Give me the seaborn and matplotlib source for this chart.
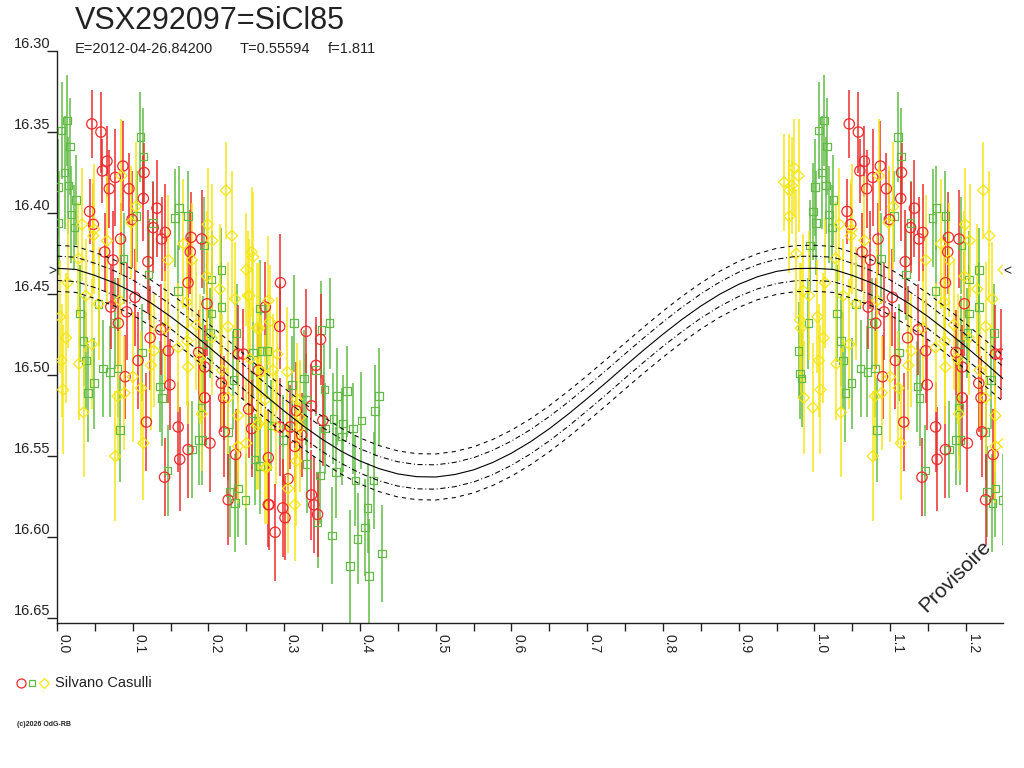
import matplotlib
matplotlib.use('Agg')
import numpy as np
import pandas as pd
from matplotlib import pyplot as plt
from matplotlib.lines import Line2D
import seaborn as sns

title = 'VSX292097=SiCl85'
epoch_text = 'E=2012-04-26.84200'
period_text = 'T=0.55594'
f_text = 'f=1.811'
observer = 'Silvano Casulli'
credit = '(c)2026 OdG-RB'
stamp = 'Provisoire'

# red circles
red_phase = [0.046, 0.058, 0.066, 0.060, 0.077, 0.087, 0.115, 0.069, 0.095, 0.114,
             0.132, 0.043, 0.048, 0.099, 0.127, 0.143, 0.138, 0.084, 0.063, 0.074,
             0.177, 0.176, 0.191, 0.120, 0.071, 0.092, 0.081, 0.123, 0.107, 0.090,
             0.147, 0.149, 0.118, 0.160, 0.173, 0.162, 0.142, 0.202, 0.221, 0.195,
             0.195, 0.226, 0.253, 0.279, 0.257, 0.275, 0.239, 0.187, 0.295, 0.329,
             0.348, 0.342, 0.336, 0.351, 0.316, 0.323, 0.314, 0.294, 0.308, 0.336,
             0.339, 0.344, 0.305, 0.298, 0.301, 0.280, 0.288, 0.236, 0.279, 0.294,
             0.266, 0.246, 0.220, 0.103, 0.137, 0.198, 0.217, 0.173]
red_mag = [16.345, 16.350, 16.368, 16.374, 16.378, 16.371, 16.375, 16.385, 16.385, 16.391,
           16.397, 16.399, 16.407, 16.404, 16.409, 16.412, 16.416, 16.416, 16.424, 16.429,
           16.415, 16.424, 16.416, 16.430, 16.458, 16.461, 16.468, 16.477, 16.491, 16.501,
           16.485, 16.506, 16.529, 16.532, 16.546, 16.552, 16.563, 16.542, 16.535, 16.514,
           16.495, 16.577, 16.521, 16.580, 16.533, 16.458, 16.487, 16.486, 16.443, 16.473,
           16.478, 16.494, 16.519, 16.528, 16.522, 16.537, 16.544, 16.532, 16.532, 16.574,
           16.580, 16.586, 16.564, 16.582, 16.588, 16.580, 16.597, 16.549, 16.551, 16.470,
           16.497, 16.487, 16.514, 16.452, 16.472, 16.456, 16.505, 16.443]
red_err = [0.021, 0.025, 0.022, 0.020, 0.030, 0.028, 0.018, 0.024, 0.022, 0.026,
           0.030, 0.020, 0.025, 0.030, 0.028, 0.030, 0.026, 0.022, 0.024, 0.030,
           0.028, 0.026, 0.030, 0.032, 0.026, 0.030, 0.028, 0.032, 0.030, 0.026,
           0.032, 0.028, 0.030, 0.028, 0.030, 0.032, 0.024, 0.030, 0.028, 0.030,
           0.026, 0.028, 0.030, 0.026, 0.030, 0.028, 0.030, 0.026, 0.030, 0.026,
           0.028, 0.030, 0.026, 0.028, 0.030, 0.026, 0.028, 0.030, 0.026, 0.028,
           0.030, 0.026, 0.028, 0.030, 0.026, 0.028, 0.030, 0.028, 0.030, 0.026,
           0.030, 0.028, 0.026, 0.030, 0.028, 0.032, 0.030, 0.028]

# green squares
green_phase = [0.006, 0.013, 0.017, 0.001, 0.010, 0.015, 0.025, 0.019, 0.002, 0.023,
               0.110, 0.114, 0.161, 0.173, 0.156, 0.105, 0.127, 0.194, 0.088, 0.217,
               0.030, 0.035, 0.038, 0.049, 0.041, 0.055, 0.061, 0.070, 0.080, 0.083,
               0.076, 0.112, 0.136, 0.139, 0.146, 0.178, 0.187, 0.191, 0.202, 0.226,
               0.228, 0.235, 0.249, 0.239, 0.261, 0.268, 0.283, 0.233, 0.217, 0.204,
               0.121, 0.277, 0.313, 0.360, 0.349, 0.342, 0.326, 0.353, 0.370, 0.383,
               0.425, 0.420, 0.402, 0.391, 0.378, 0.365, 0.376, 0.354, 0.330, 0.368,
               0.347, 0.394, 0.418, 0.410, 0.407, 0.397, 0.363, 0.344, 0.429, 0.387,
               0.412, 0.298, 0.268, 0.259, 0.310, 0.329, 0.258, 0.192, 0.998, 0.994,
               0.979, 0.981, 0.983, 0.992, 0.204, 0.270, 0.193, 0.160, 0.237]
green_mag = [16.349, 16.343, 16.359, 16.384, 16.375, 16.383, 16.392, 16.401, 16.406, 16.409,
             16.353, 16.365, 16.397, 16.402, 16.403, 16.402, 16.406, 16.420, 16.428, 16.435,
             16.462, 16.479, 16.491, 16.505, 16.511, 16.456, 16.496, 16.498, 16.496, 16.534,
             16.468, 16.486, 16.507, 16.514, 16.559, 16.546, 16.540, 16.520, 16.474, 16.535,
             16.572, 16.579, 16.577, 16.570, 16.552, 16.556, 16.531, 16.503, 16.458, 16.441,
             16.438, 16.485, 16.468, 16.468, 16.472, 16.497, 16.502, 16.509, 16.513, 16.510,
             16.513, 16.522, 16.528, 16.533, 16.530, 16.527, 16.538, 16.533, 16.555, 16.560,
             16.562, 16.565, 16.565, 16.582, 16.594, 16.601, 16.599, 16.591, 16.610, 16.618,
             16.624, 16.540, 16.459, 16.486, 16.506, 16.515, 16.528, 16.540, 16.399, 16.420,
             16.485, 16.499, 16.502, 16.468, 16.462, 16.485, 16.481, 16.448, 16.474]
green_err = [0.030, 0.028, 0.030, 0.030, 0.035, 0.030, 0.028, 0.030, 0.032, 0.026,
             0.028, 0.030, 0.026, 0.028, 0.030, 0.028, 0.026, 0.030, 0.028, 0.026,
             0.030, 0.028, 0.030, 0.028, 0.030, 0.026, 0.030, 0.028, 0.030, 0.032,
             0.028, 0.030, 0.028, 0.030, 0.028, 0.030, 0.028, 0.030, 0.028, 0.030,
             0.028, 0.030, 0.028, 0.030, 0.028, 0.030, 0.028, 0.030, 0.028, 0.030,
             0.028, 0.030, 0.030, 0.028, 0.030, 0.028, 0.030, 0.028, 0.030, 0.028,
             0.030, 0.028, 0.030, 0.028, 0.030, 0.028, 0.030, 0.028, 0.030, 0.028,
             0.030, 0.028, 0.030, 0.028, 0.030, 0.028, 0.030, 0.028, 0.030, 0.035,
             0.035, 0.028, 0.030, 0.028, 0.030, 0.028, 0.030, 0.028, 0.030, 0.028,
             0.030, 0.028, 0.030, 0.028, 0.030, 0.028, 0.030, 0.028, 0.030]

# yellow diamonds
yellow_phase = [0.085, 0.104, 0.033, 0.049, 0.048, 0.066, 0.098, 0.223, 0.199, 0.231,
                0.205, 0.167, 0.028, 0.147, 0.178, 0.257, 0.250, 0.014, 0.004, 0.012,
                0.006, 0.008, 0.029, 0.035, 0.038, 0.046, 0.055, 0.080, 0.089, 0.077,
                0.114, 0.100, 0.111, 0.124, 0.128, 0.160, 0.173, 0.189, 0.191, 0.172,
                0.171, 0.083, 0.235, 0.252, 0.239, 0.250, 0.239, 0.264, 0.226, 0.266,
                0.218, 0.184, 0.277, 0.259, 0.254, 0.279, 0.281, 0.267, 0.291, 0.304,
                0.285, 0.275, 0.317, 0.321, 0.289, 0.264, 0.275, 0.305, 0.314, 0.316,
                0.321, 0.215, 0.255, 0.973, 0.979, 0.960, 0.967, 0.970, 0.967, 0.976,
                0.985, 0.993, 0.981, 0.982, 0.986, 0.998, 0.204, 0.226, 0.143, 0.198,
                0.270]
yellow_mag = [16.377, 16.396, 16.407, 16.410, 16.414, 16.417, 16.406, 16.386, 16.407, 16.414,
              16.417, 16.419, 16.428, 16.429, 16.429, 16.424, 16.435, 16.443, 16.464, 16.477,
              16.491, 16.509, 16.493, 16.523, 16.451, 16.481, 16.456, 16.513, 16.511, 16.550,
              16.542, 16.501, 16.508, 16.494, 16.485, 16.483, 16.495, 16.490, 16.524, 16.479,
              16.455, 16.454, 16.453, 16.451, 16.525, 16.542, 16.544, 16.471, 16.514, 16.530,
              16.497, 16.469, 16.557, 16.427, 16.451, 16.454, 16.467, 16.471, 16.487, 16.498,
              16.497, 16.515, 16.515, 16.532, 16.532, 16.531, 16.557, 16.570, 16.580, 16.553,
              16.526, 16.447, 16.490, 16.372, 16.377, 16.381, 16.386, 16.383, 16.402, 16.425,
              16.448, 16.451, 16.466, 16.471, 16.514, 16.520, 16.477, 16.470, 16.471, 16.439,
              16.498]
yellow_err = [0.035, 0.040, 0.035, 0.040, 0.035, 0.040, 0.035, 0.030, 0.035, 0.040,
              0.035, 0.040, 0.035, 0.040, 0.035, 0.040, 0.035, 0.040, 0.035, 0.040,
              0.035, 0.040, 0.035, 0.040, 0.035, 0.040, 0.035, 0.040, 0.035, 0.040,
              0.035, 0.040, 0.035, 0.040, 0.035, 0.040, 0.035, 0.040, 0.035, 0.040,
              0.035, 0.040, 0.035, 0.040, 0.035, 0.040, 0.035, 0.040, 0.035, 0.040,
              0.035, 0.040, 0.035, 0.040, 0.035, 0.040, 0.035, 0.040, 0.035, 0.040,
              0.035, 0.040, 0.035, 0.040, 0.035, 0.040, 0.035, 0.040, 0.035, 0.040,
              0.035, 0.040, 0.035, 0.030, 0.035, 0.030, 0.035, 0.030, 0.035, 0.040,
              0.035, 0.040, 0.035, 0.040, 0.035, 0.040, 0.035, 0.040, 0.035, 0.040,
              0.035]

# fitted light curve, read every 0.025 in phase
curve_phase = [0.000, 0.025, 0.050, 0.075, 0.100, 0.125, 0.150, 0.175, 0.200, 0.225,
               0.250, 0.275, 0.300, 0.325, 0.350, 0.375, 0.400, 0.425, 0.450, 0.475,
               0.500, 0.525, 0.550, 0.575, 0.600, 0.625, 0.650, 0.675, 0.700, 0.725,
               0.750, 0.775, 0.800, 0.825, 0.850, 0.875, 0.900, 0.925, 0.950, 0.975,
               1.000, 1.025, 1.050, 1.075, 1.100, 1.125, 1.150, 1.175, 1.200, 1.225,
               1.250]
curve_mag = [16.4341, 16.4348, 16.4385, 16.4430, 16.4488, 16.4558, 16.4639, 16.4729, 16.4825, 16.4924,
             16.5026, 16.5126, 16.5222, 16.5313, 16.5396, 16.5469, 16.5530, 16.5577, 16.5610, 16.5627,
             16.5629, 16.5614, 16.5585, 16.5540, 16.5482, 16.5412, 16.5331, 16.5241, 16.5145, 16.5046,
             16.4944, 16.4844, 16.4748, 16.4657, 16.4574, 16.4501, 16.4440, 16.4393, 16.4360, 16.4343,
             16.4341, 16.4348, 16.4385, 16.4430, 16.4488, 16.4558, 16.4639, 16.4729, 16.4825, 16.4924,
             16.5026]
band_inner = 0.0075
band_outer = 0.0142
max_mag = 16.436


def make_frame(phase, mag, err):
    df = pd.DataFrame({'phase': phase, 'mag': mag, 'err': err})
    wrap = df[df['phase'] <= 0.25].copy()
    wrap['phase'] = wrap['phase'] + 1
    return pd.concat([df, wrap], ignore_index=True)


sns.set_style('white')
plt.rcParams['font.family'] = ['Liberation Sans', 'DejaVu Sans']
ink = '#222222'

fig = plt.figure(figsize=(10.24, 7.68), dpi=100)
ax = fig.add_axes([57 / 1024, 1 - 623 / 768, 946 / 1024, 572 / 768])

series = [
    (make_frame(green_phase, green_mag, green_err), 's', 30, '#62bb46'),
    (make_frame(red_phase, red_mag, red_err), 'o', 55, '#ee2b2b'),
    (make_frame(yellow_phase, yellow_mag, yellow_err), 'D', 32, '#f5e617'),
]
for df, marker, size, color in series:
    ax.vlines(df['phase'], df['mag'] - df['err'], df['mag'] + df['err'],
              color=color, lw=1.1, zorder=2)
    sns.scatterplot(data=df, x='phase', y='mag', marker=marker, s=size,
                    facecolor='none', edgecolor=color, linewidth=0.9, ax=ax, zorder=3)

curve = pd.DataFrame({'phase': curve_phase, 'mag': curve_mag})
sns.lineplot(data=curve, x='phase', y='mag', color='black', lw=0.8, ax=ax, zorder=5)
for off, style in [(band_inner, (0, (5, 2.5, 1, 2.5))), (band_outer, (0, (4, 4)))]:
    for sign in (-1, 1):
        band = curve.assign(mag=curve['mag'] + sign * off)
        sns.lineplot(data=band, x='phase', y='mag', color='black', lw=0.75,
                     linestyle=style, ax=ax, zorder=5)

ax.set_xlim(0, 1.249)
ax.set_ylim(16.653, 16.30)
ax.set_xlabel('')
ax.set_ylabel('')

ax.set_xticks(np.round(np.arange(0, 1.21, 0.1), 1))
ax.set_xticks(np.round(np.arange(0.05, 1.25, 0.1), 2), minor=True)
ax.set_xticklabels([f'{v:.1f}' for v in np.arange(0, 1.21, 0.1)], rotation=-90,
                   ha='left', va='top', fontsize=10, color=ink)
ax.tick_params(axis='x', which='both', direction='out', length=6, width=1.0,
               color=ink, bottom=True, pad=2)

yt = np.round(np.arange(16.30, 16.66, 0.05), 2)
ax.set_yticks(yt)
ax.set_yticklabels([f'{v:.2f}' for v in yt], fontsize=10.5, color=ink, va='bottom')
ax.tick_params(axis='y', direction='out', length=7, width=1.0, color=ink, left=True, pad=-2)

for side in ['top', 'right']:
    ax.spines[side].set_visible(False)
for side in ['left', 'bottom']:
    ax.spines[side].set_color(ink)
    ax.spines[side].set_linewidth(1.0)

ytrans = ax.get_yaxis_transform()
ax.text(-0.005, max_mag, '>', transform=ytrans, ha='center', va='center',
        fontsize=10, color=ink, clip_on=False)
ax.text(1.0045, max_mag, '<', transform=ytrans, ha='center', va='center',
        fontsize=10, color=ink, clip_on=False)

fig.text(955 / 1024, 1 - 576 / 768, stamp, rotation=45, ha='center', va='center',
         fontsize=15, color=ink)

fig.text(75 / 1024, 1 - 29 / 768, title, fontsize=22, color=ink, va='baseline')
fig.text(75 / 1024, 1 - 53 / 768, epoch_text, fontsize=10.5, color=ink, va='baseline')
fig.text(240 / 1024, 1 - 53 / 768, period_text, fontsize=10.5, color=ink, va='baseline')
fig.text(328 / 1024, 1 - 53 / 768, f_text, fontsize=10.5, color=ink, va='baseline')

for xpx, marker, ms, color in [(21, 'o', 6.5, '#ee2b2b'), (32, 's', 5, '#62bb46'),
                               (44, 'D', 5.5, '#f5e617')]:
    fig.add_artist(Line2D([xpx / 1024], [1 - 683 / 768], marker=marker, ms=ms,
                          mfc='none', mec=color, mew=0.9, transform=fig.transFigure))
fig.text(55 / 1024, 1 - 683 / 768, observer, fontsize=10.5, color=ink, va='center')
fig.text(17 / 1024, 1 - 725 / 768, credit, fontsize=5, color=ink, va='center',
         fontweight='bold')

fig.savefig('out.png', dpi=100)
